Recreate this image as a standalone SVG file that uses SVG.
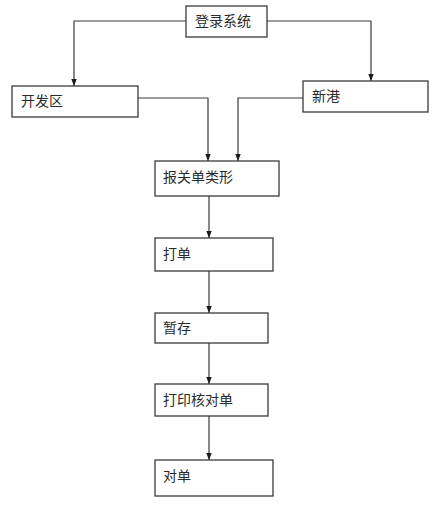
<svg xmlns="http://www.w3.org/2000/svg" width="448" height="520" viewBox="0 0 448 520">
<style>
.box{fill:#fff;stroke:#3a3a3a;stroke-width:1.3}
.t{font-family:"Liberation Sans","Noto Sans CJK SC",sans-serif;font-size:14px;fill:#2a2a2a;dominant-baseline:central}
.c{fill:none;stroke:#3a3a3a;stroke-width:1.2}
</style>
<defs>
<marker id="ah" markerWidth="8" markerHeight="9" refX="4" refY="9" orient="auto-start-reverse" markerUnits="userSpaceOnUse" viewBox="0 0 8 9">
<path d="M0,0 L8,0 L4,9 Z" fill="#1a1a1a" transform="rotate(-90 4 4.5)"/>
</marker>
<marker id="arr" markerWidth="7" markerHeight="9" refX="9" refY="3.5" orient="auto" markerUnits="userSpaceOnUse" viewBox="0 0 9 7">
<path d="M0,0 L9,3.5 L0,7 Z" fill="#1a1a1a"/>
</marker>
</defs>
<rect width="448" height="520" fill="#fff"/>
<g id="connectors">
<path class="c" d="M186,21 H74 V86" marker-end="url(#arr)"/>
<path class="c" d="M267,21 H371 V81" marker-end="url(#arr)"/>
<path class="c" d="M138,98 H208 V161" marker-end="url(#arr)"/>
<path class="c" d="M303,98 H238 V161" marker-end="url(#arr)"/>
<path class="c" d="M209,196 V238" marker-end="url(#arr)"/>
<path class="c" d="M209,271 V313" marker-end="url(#arr)"/>
<path class="c" d="M209,343 V384" marker-end="url(#arr)"/>
<path class="c" d="M209,416 V460" marker-end="url(#arr)"/>
</g>
<g id="login"><rect class="box" x="186" y="6" width="81" height="31"/><text class="t" x="195" y="21">登录系统</text></g>
<g id="kaifaqu"><rect class="box" x="12" y="86" width="126" height="31"/><text class="t" x="21" y="101">开发区</text></g>
<g id="xingang"><rect class="box" x="303" y="81" width="125" height="31"/><text class="t" x="312" y="96">新港</text></g>
<g id="baoguan"><rect class="box" x="155" y="161" width="124" height="35"/><text class="t" x="163" y="177">报关单类形</text></g>
<g id="dadan"><rect class="box" x="155" y="238" width="118" height="33"/><text class="t" x="163" y="254">打单</text></g>
<g id="zancun"><rect class="box" x="155" y="313" width="113" height="30"/><text class="t" x="163" y="328">暂存</text></g>
<g id="dayin"><rect class="box" x="155" y="384" width="113" height="32"/><text class="t" x="163" y="400">打印核对单</text></g>
<g id="duidan"><rect class="box" x="155" y="460" width="118" height="36"/><text class="t" x="163" y="476">对单</text></g>
</svg>
